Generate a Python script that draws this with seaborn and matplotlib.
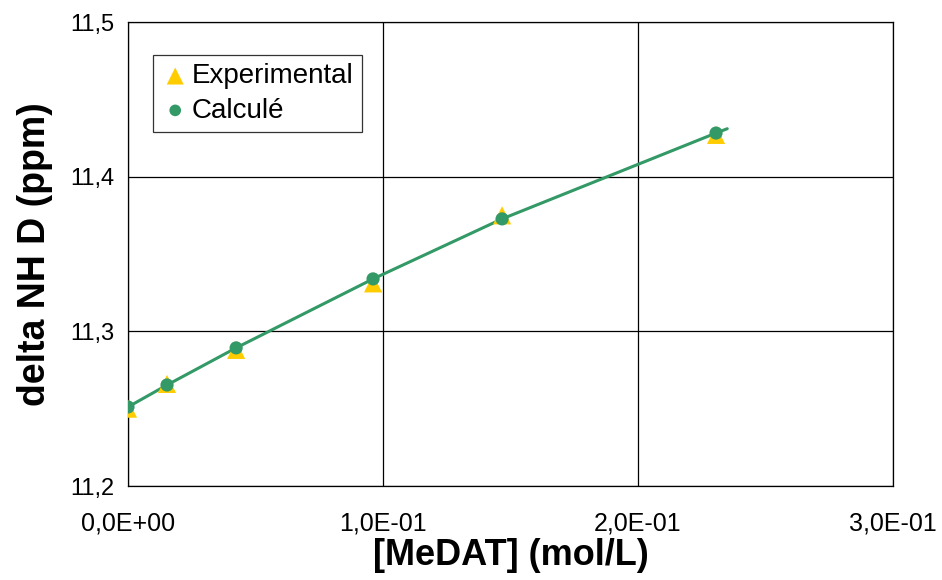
import matplotlib
matplotlib.use("Agg")
import matplotlib.pyplot as plt
import seaborn as sns
import pandas as pd

# Data
conc = [0.0, 0.0153, 0.0424, 0.0961, 0.1467, 0.2306]
delta_exp = [11.250, 11.266, 11.288, 11.331, 11.375, 11.427]
delta_calc = [11.2511, 11.2653, 11.2893, 11.3339, 11.3727, 11.4282]
line_conc = [0.0, 0.0153, 0.0424, 0.0961, 0.1467, 0.2306, 0.2350]
line_delta = [11.2511, 11.2653, 11.2893, 11.3339, 11.3727, 11.4282, 11.4310]
xticks = [0.0, 0.1, 0.2, 0.3]
xtick_labels = ["0,0E+00", "1,0E-01", "2,0E-01", "3,0E-01"]
yticks = [11.2, 11.3, 11.4, 11.5]
ytick_labels = ["11,2", "11,3", "11,4", "11,5"]

sns.set_style("white")
plt.rcParams["font.family"] = ["Liberation Sans", "DejaVu Sans"]
plt.rcParams["text.color"] = "black"
plt.rcParams["axes.labelcolor"] = "black"

fig = plt.figure(figsize=(9.42, 5.80), dpi=100)
ax = fig.add_axes([128/942, 94/580, (893-128)/942, (486-22)/580])

df_line = pd.DataFrame({"x": line_conc, "y": line_delta})
df_exp = pd.DataFrame({"x": conc, "y": delta_exp})
df_calc = pd.DataFrame({"x": conc, "y": delta_calc})

sns.lineplot(data=df_line, x="x", y="y", ax=ax, color="#339966", lw=2.2, zorder=3,
             sort=False, estimator=None)
sns.scatterplot(data=df_exp, x="x", y="y", ax=ax, marker="^", s=170, color="#FFCC00",
                edgecolor="none", zorder=4, label="Experimental")
sns.scatterplot(data=df_calc, x="x", y="y", ax=ax, marker="o", s=90, color="#339966",
                edgecolor="none", zorder=5, label="Calculé")

ax.set_xlim(0, 0.3)
ax.set_ylim(11.2, 11.5)
ax.set_xticks(xticks)
ax.set_xticklabels(xtick_labels)
ax.set_yticks(yticks)
ax.set_yticklabels(ytick_labels)
ax.tick_params(axis="both", labelsize=18, length=7, width=1, direction="out",
               color="black", labelcolor="black")
ax.tick_params(axis="x", pad=11)
ax.tick_params(axis="y", pad=3, labelsize=17)
ax.grid(True, color="black", lw=0.9)
for s in ax.spines.values():
    s.set_color("black")
    s.set_linewidth(0.9)
ax.set_xlabel("[MeDAT] (mol/L)", fontsize=26, fontweight="bold", labelpad=2, color="black")
ax.set_ylabel("delta NH D (ppm)", fontsize=27, fontweight="bold", labelpad=12, color="black")

leg = ax.legend(loc="upper left", bbox_to_anchor=(153/942, 1 - 55/580),
                bbox_transform=fig.transFigure, fontsize=20,
                frameon=True, fancybox=False, edgecolor="black", handletextpad=0.1,
                borderpad=0.3, labelspacing=0.3, handlelength=1.0, borderaxespad=0)
leg.get_frame().set_linewidth(0.9)
for t in leg.get_texts():
    t.set_color("black")
handles = leg.legend_handles
handles[0].set_sizes([150])
handles[1].set_sizes([70])

fig.savefig("out.png", dpi=100)
